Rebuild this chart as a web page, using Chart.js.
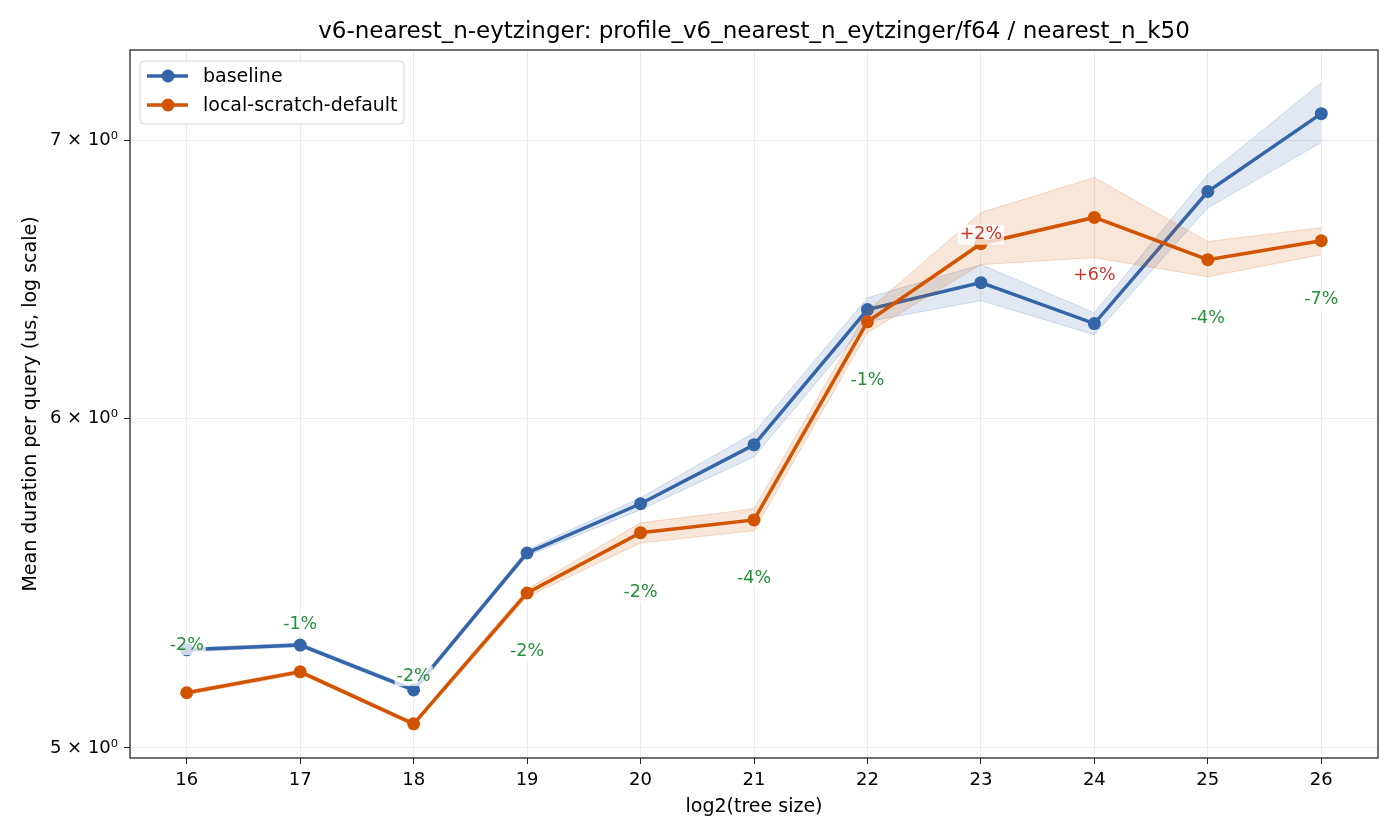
<!DOCTYPE html>
<html>
<head>
<meta charset="utf-8">
<title>v6-nearest_n-eytzinger</title>
<script src="https://cdn.jsdelivr.net/npm/chart.js@4.4.1/dist/chart.umd.min.js"></script>
<style>
    body { margin: 0; background: #fff; }
    canvas { display: block; }
</style>
</head>
<body>
<canvas id="profileChart" width="1400" height="840"></canvas>
<script>
// 数据
const treeSizes = [16, 17, 18, 19, 20, 21, 22, 23, 24, 25, 26];
const baseline   = [5.279, 5.293, 5.163, 5.570, 5.724, 5.914, 6.374, 6.470, 6.325, 6.805, 7.105];
const baselineLo = [5.273, 5.288, 5.157, 5.561, 5.705, 5.875, 6.331, 6.406, 6.286, 6.744, 6.992];
const baselineHi = [5.285, 5.299, 5.169, 5.580, 5.743, 5.954, 6.416, 6.535, 6.363, 6.869, 7.228];
const scratch    = [5.155, 5.215, 5.067, 5.448, 5.633, 5.673, 6.331, 6.611, 6.708, 6.553, 6.622];
const scratchLo  = [5.149, 5.209, 5.061, 5.436, 5.601, 5.639, 6.293, 6.535, 6.560, 6.491, 6.571];
const scratchHi  = [5.160, 5.221, 5.072, 5.460, 5.664, 5.708, 6.370, 6.726, 6.858, 6.619, 6.670];
const deltaLabels = ['-2%', '-1%', '-2%', '-2%', '-2%', '-4%', '-1%', '+2%', '+6%', '-4%', '-7%'];
const deltaLabelY = [5.293, 5.355, 5.203, 5.273, 5.451, 5.491, 6.128, 6.644, 6.495, 6.342, 6.409];
const yTicks = [5, 6, 7];

const TITLE = 'v6-nearest_n-eytzinger: profile_v6_nearest_n_eytzinger/f64 / nearest_n_k50';
const BLUE = '#3465a8';
const ORANGE = '#d35400';
const FONT = "'DejaVu Sans', sans-serif";

function pts(arr) {
    return treeSizes.map((x, i) => ({ x: x, y: arr[i] }));
}

// 误差带: lo 线 + hi 线填充到 lo
function band(lo, hi, rgb, order) {
    return [{
        label: '_lo',
        data: pts(lo),
        borderColor: `rgba(${rgb}, 0.2)`,
        borderWidth: 1,
        pointRadius: 0,
        fill: false,
        order: order
    }, {
        label: '_hi',
        data: pts(hi),
        borderColor: `rgba(${rgb}, 0.2)`,
        borderWidth: 1,
        pointRadius: 0,
        backgroundColor: `rgba(${rgb}, 0.15)`,
        fill: '-1',
        order: order
    }];
}

function mainLine(label, arr, color, order) {
    return {
        label: label,
        data: pts(arr),
        borderColor: color,
        backgroundColor: color,
        borderWidth: 3.5,
        pointRadius: 6.5,
        pointBorderWidth: 0,
        pointBackgroundColor: color,
        fill: false,
        order: order
    };
}

// 外框 + 标题 (标题居中于绘图区)
const framePlugin = {
    id: 'frame',
    afterDatasetsDraw(chart) {
        const { ctx, chartArea: a } = chart;
        ctx.save();
        ctx.strokeStyle = '#262626';
        ctx.lineWidth = 1.3;
        ctx.strokeRect(a.left, a.top, a.right - a.left, a.bottom - a.top);
        ctx.font = `23px ${FONT}`;
        ctx.fillStyle = '#000';
        ctx.textAlign = 'center';
        ctx.textBaseline = 'middle';
        ctx.fillText(TITLE, (a.left + a.right) / 2, a.top - 18);
        ctx.restore();
    }
};

// 百分比标注
const deltaPlugin = {
    id: 'deltas',
    afterDatasetsDraw(chart) {
        const { ctx } = chart;
        const xs = chart.scales.x, ys = chart.scales.y;
        ctx.save();
        ctx.font = `17.5px ${FONT}`;
        ctx.textAlign = 'center';
        ctx.textBaseline = 'middle';
        deltaLabels.forEach((t, i) => {
            const px = xs.getPixelForValue(treeSizes[i]);
            const py = ys.getPixelForValue(deltaLabelY[i]);
            const w = ctx.measureText(t).width;
            ctx.fillStyle = 'rgba(255, 255, 255, 0.75)';
            ctx.fillRect(px - w / 2 - 2, py - 10, w + 4, 20);
            ctx.fillStyle = t.startsWith('+') ? '#c8372d' : '#23903a';
            ctx.fillText(t, px, py);
        });
        ctx.restore();
    }
};

// 图例 (画在绘图区左上角)
const legendPlugin = {
    id: 'boxLegend',
    afterDraw(chart) {
        const { ctx, chartArea: a } = chart;
        const x0 = a.left + 10, y0 = a.top + 11;
        const w = 264, h = 63;
        ctx.save();
        ctx.beginPath();
        ctx.roundRect(x0, y0, w, h, 4);
        ctx.fillStyle = 'rgba(255, 255, 255, 0.85)';
        ctx.fill();
        ctx.strokeStyle = '#d4d4d4';
        ctx.lineWidth = 1;
        ctx.stroke();
        const items = [['baseline', BLUE], ['local-scratch-default', ORANGE]];
        ctx.font = `19px ${FONT}`;
        ctx.textBaseline = 'middle';
        items.forEach(([name, color], i) => {
            const y = y0 + 15 + i * 29;
            ctx.strokeStyle = color;
            ctx.lineWidth = 3.5;
            ctx.beginPath();
            ctx.moveTo(x0 + 7, y);
            ctx.lineTo(x0 + 48, y);
            ctx.stroke();
            ctx.fillStyle = color;
            ctx.beginPath();
            ctx.arc(x0 + 28, y, 6.5, 0, Math.PI * 2);
            ctx.fill();
            ctx.fillStyle = '#000';
            ctx.fillText(name, x0 + 63, y + 1);
        });
        ctx.restore();
    }
};

const ctx = document.getElementById('profileChart').getContext('2d');
new Chart(ctx, {
    type: 'line',
    data: {
        datasets: [
            ...band(baselineLo, baselineHi, '52, 101, 168', 4),
            mainLine('baseline', baseline, BLUE, 3),
            ...band(scratchLo, scratchHi, '211, 84, 0', 2),
            mainLine('local-scratch-default', scratch, ORANGE, 1)
        ]
    },
    options: {
        responsive: false,
        animation: false,
        layout: { padding: { left: 0, right: 22, top: 50, bottom: 0 } },
        plugins: {
            legend: { display: false },
            tooltip: { enabled: false },
            title: { display: false }
        },
        scales: {
            x: {
                type: 'linear',
                min: 15.5,
                max: 26.5,
                afterBuildTicks: (s) => { s.ticks = treeSizes.map(v => ({ value: v })); },
                afterFit: (s) => { s.height = 82; },
                border: { display: false },
                grid: {
                    color: '#ebebeb',
                    tickColor: '#262626',
                    tickLength: 6,
                    tickWidth: 1
                },
                ticks: {
                    color: '#000',
                    font: { family: FONT, size: 18 },
                    padding: 6,
                    maxRotation: 0
                },
                title: {
                    display: true,
                    text: 'log2(tree size)',
                    color: '#000',
                    font: { family: FONT, size: 19 },
                    padding: { top: 0, bottom: 22 }
                }
            },
            y: {
                type: 'logarithmic',
                min: 4.972,
                max: 7.36,
                afterBuildTicks: (s) => { s.ticks = yTicks.map(v => ({ value: v })); },
                afterFit: (s) => { s.width = 130; },
                border: { display: false },
                grid: {
                    color: '#ebebeb',
                    tickColor: '#262626',
                    tickLength: 6,
                    tickWidth: 1
                },
                ticks: {
                    color: '#000',
                    font: { family: FONT, size: 18 },
                    padding: 6,
                    callback: (v) => v + ' \u00d7 10\u2070'
                },
                title: {
                    display: true,
                    text: 'Mean duration per query (us, log scale)',
                    color: '#000',
                    font: { family: FONT, size: 19 },
                    padding: { top: 20, bottom: 0 }
                }
            }
        }
    },
    plugins: [framePlugin, deltaPlugin, legendPlugin]
});
</script>
</body>
</html>
